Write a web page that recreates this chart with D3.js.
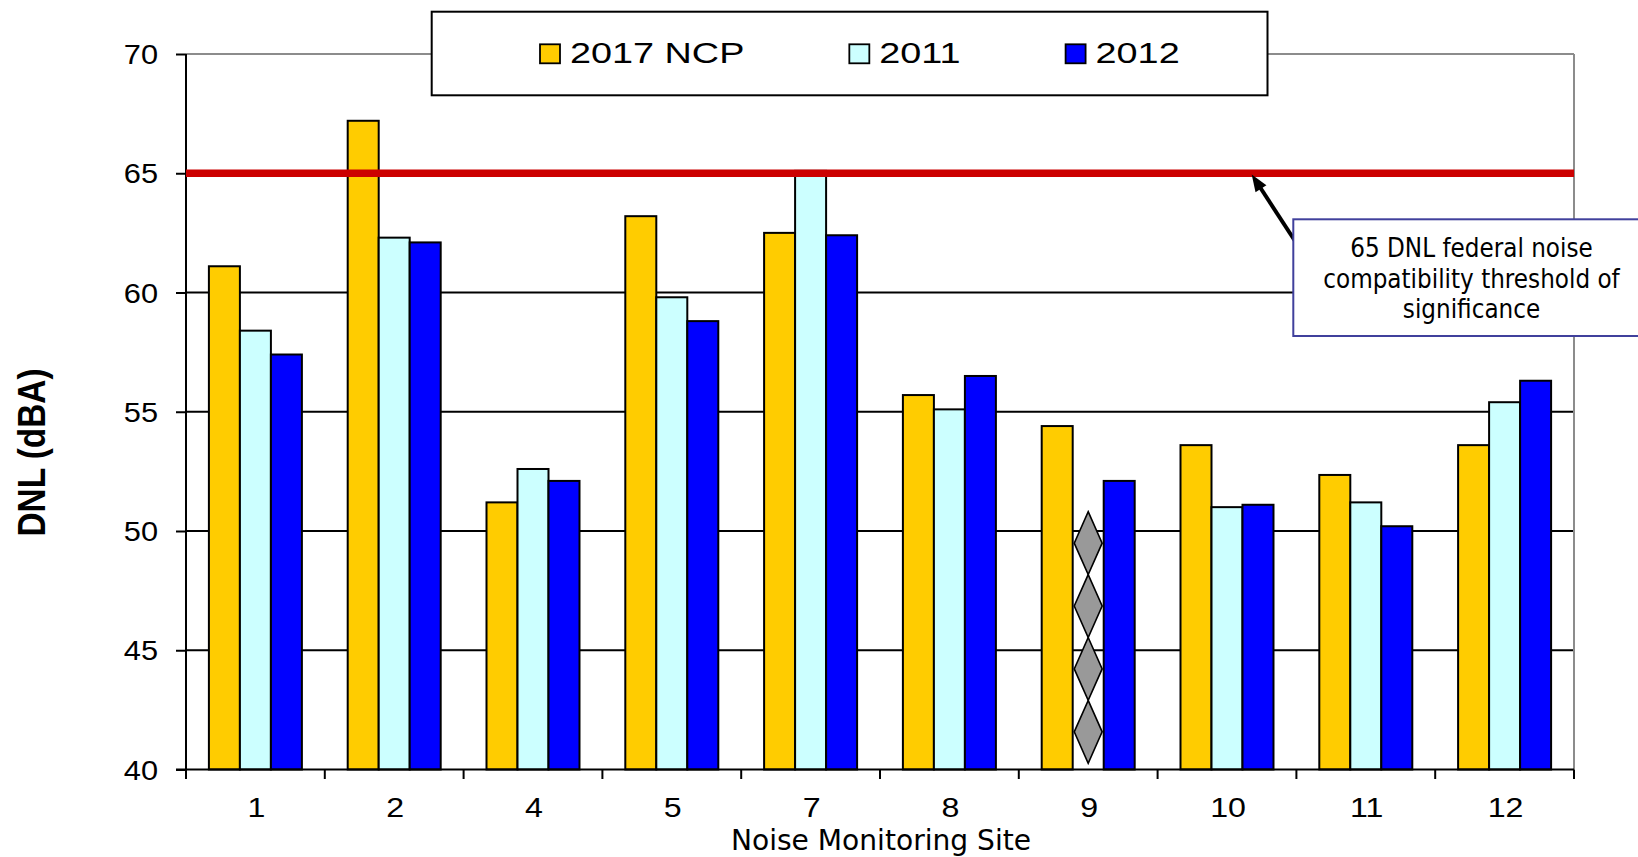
<!DOCTYPE html>
<html>
<head>
<meta charset="utf-8">
<script src="https://cdn.jsdelivr.net/npm/d3@7"></script>
<style>
  html, body { margin: 0; padding: 0; background: #fff; }
  svg { display: block; }
</style>
</head>
<body>
<svg id="chart" width="1638" height="857"></svg>
<script>
// ---- data (DNL, dBA) ----
const sites = ["1", "2", "4", "5", "7", "8", "9", "10", "11", "12"];
const seriesNames = ["2017 NCP", "2011", "2012"];
const ncp2017 = [61.1, 67.2, 51.2, 63.2, 62.5, 55.7, 54.4, 53.6, 52.35, 53.6];
const dnl2011 = [58.4, 62.3, 52.6, 59.8, 65.1, 55.1, null, 51.0, 51.2, 55.4];
const dnl2012 = [57.4, 62.1, 52.1, 58.8, 62.4, 56.5, 52.1, 51.1, 50.2, 56.3];
const yTicks = [40, 45, 50, 55, 60, 65, 70];
const threshold = 65;
const thresholdNote = ["65 DNL federal noise", "compatibility threshold of", "significance"];
const missingSpan = [40.26, 50.81]; // vertical extent of the "no data" marker, dBA
const yTitle = "DNL (dBA)";
const xTitle = "Noise Monitoring Site";

// ---- setup ----
const W = 1638, H = 857;
const plotL = 186, plotR = 1574;
const arial = "'Liberation Sans', Arial, Helvetica, sans-serif";
const tahoma = "'DejaVu Sans', Verdana, sans-serif";

const svg = d3.select("#chart");
svg.append("rect").attr("width", W).attr("height", H).attr("fill", "#fff");

const y = d3.scaleLinear().domain([40, 70]).range([769.5, 54]);
const x = d3.scaleBand().domain(sites).range([plotL, plotR])
  .paddingInner(0.33).paddingOuter(0.165);
const xs = d3.scaleBand().domain(seriesNames).range([0, x.bandwidth()]);
const color = d3.scaleOrdinal().domain(seriesNames)
  .range(["#FFCC00", "#CCFFFF", "#0000FF"]);

const seriesValues = [ncp2017, dnl2011, dnl2012];
const rows = sites.map((s, i) => ({
  site: s,
  values: seriesNames.map((name, k) => ({ name, v: seriesValues[k][i] }))
}));

// ---- gridlines & frame ----
svg.append("g").selectAll("line")
  .data(yTicks.filter(t => t > 40 && t < 70))
  .join("line")
  .attr("x1", plotL).attr("x2", plotR)
  .attr("y1", d => y(d)).attr("y2", d => y(d))
  .attr("stroke", "#000").attr("stroke-width", 1.8);

svg.append("line")
  .attr("x1", plotL).attr("x2", plotR)
  .attr("y1", y(70)).attr("y2", y(70))
  .attr("stroke", "#8c8c8c").attr("stroke-width", 2);
svg.append("line")
  .attr("x1", plotR).attr("x2", plotR)
  .attr("y1", y(70)).attr("y2", y(40))
  .attr("stroke", "#8c8c8c").attr("stroke-width", 2);

// ---- bars ----
const groups = svg.append("g").selectAll("g")
  .data(rows).join("g")
  .attr("transform", d => `translate(${x(d.site)},0)`);

groups.selectAll("rect")
  .data(d => d.values.filter(e => e.v !== null))
  .join("rect")
  .attr("x", e => xs(e.name))
  .attr("y", e => y(e.v))
  .attr("width", xs.bandwidth())
  .attr("height", e => y(40) - y(e.v))
  .attr("fill", e => color(e.name))
  .attr("stroke", "#000")
  .attr("stroke-width", 2);

// "no data" marker: a column of stacked diamonds in the empty slot
groups.each(function (d) {
  const g = d3.select(this);
  d.values.filter(e => e.v === null).forEach(e => {
    const cx = xs(e.name) + xs.bandwidth() / 2;
    const top = y(missingSpan[1]), bottom = y(missingSpan[0]);
    const n = 4, h = (bottom - top) / n, hw = xs.bandwidth() * 0.45;
    g.selectAll(null).data(d3.range(n)).join("path")
      .attr("d", i => {
        const t = top + i * h, m = t + h / 2, b = t + h;
        return `M${cx},${t}L${cx + hw},${m}L${cx},${b}L${cx - hw},${m}Z`;
      })
      .attr("fill", "#999999")
      .attr("stroke", "#000")
      .attr("stroke-width", 1.6);
  });
});

// ---- axes ----
const yAxis = d3.axisLeft(y).tickValues(yTicks).tickSize(10).tickPadding(0);
const gy = svg.append("g").attr("transform", `translate(${plotL},0)`).call(yAxis)
  .attr("font-family", arial).attr("font-size", 27);
gy.select(".domain").remove();
gy.selectAll(".tick line").attr("stroke", "#000").attr("stroke-width", 2);
gy.selectAll(".tick text")
  .attr("x", 0).attr("dy", 0)
  .attr("fill", "#000")
  .attr("transform", "translate(-28,9.7) scale(1.14,1)");

const xAxis = d3.axisBottom(x).tickSize(0).tickPadding(0);
const gx = svg.append("g").attr("transform", `translate(0,${y(40)})`).call(xAxis)
  .attr("font-family", arial).attr("font-size", 27.5);
gx.select(".domain").remove();
gx.selectAll(".tick line").remove();
gx.selectAll(".tick text")
  .attr("y", 0).attr("dy", 0)
  .attr("fill", "#000")
  .attr("transform", "translate(1,47.2) scale(1.17,1)");

// category boundary ticks
const bounds = d3.range(sites.length + 1).map(i => plotL + i * x.step());
svg.append("g").selectAll("line").data(bounds).join("line")
  .attr("x1", d => d).attr("x2", d => d)
  .attr("y1", y(40)).attr("y2", y(40) + 9.5)
  .attr("stroke", "#000").attr("stroke-width", 2);

svg.append("line")
  .attr("x1", plotL).attr("x2", plotL)
  .attr("y1", y(70)).attr("y2", y(40))
  .attr("stroke", "#000").attr("stroke-width", 2);
svg.append("line")
  .attr("x1", plotL - 10).attr("x2", plotR)
  .attr("y1", y(40)).attr("y2", y(40))
  .attr("stroke", "#000").attr("stroke-width", 2);

// ---- threshold line ----
svg.append("line")
  .attr("x1", plotL).attr("x2", plotR)
  .attr("y1", y(threshold)).attr("y2", y(threshold))
  .attr("stroke", "#CC0000").attr("stroke-width", 7.5);

// ---- callout arrow ----
const tip = [1251.7, y(threshold) + 1.2];
const tail = [1296, 242.5];
const dx = tip[0] - tail[0], dy = tip[1] - tail[1];
const len = Math.hypot(dx, dy);
const ux = dx / len, uy = dy / len;
const headL = 17, headW = 6.5;
const base = [tip[0] - ux * headL, tip[1] - uy * headL];
svg.append("line")
  .attr("x1", tail[0]).attr("y1", tail[1])
  .attr("x2", base[0] + ux * 2).attr("y2", base[1] + uy * 2)
  .attr("stroke", "#000").attr("stroke-width", 4);
svg.append("path")
  .attr("d", `M${tip[0]},${tip[1]}L${base[0] - uy * headW},${base[1] + ux * headW}L${base[0] + uy * headW},${base[1] - ux * headW}Z`)
  .attr("fill", "#000");

// ---- callout box ----
const note = svg.append("g");
note.append("rect")
  .attr("x", 1293.3).attr("y", 219.3)
  .attr("width", 357).attr("height", 116.7)
  .attr("fill", "#fff").attr("stroke", "#40409c").attr("stroke-width", 2);
note.selectAll("text").data(thresholdNote).join("text")
  .attr("transform", (d, i) => `translate(1471.5,${256.7 + i * 30.8}) scale(0.89,1)`)
  .attr("text-anchor", "middle")
  .attr("font-family", tahoma).attr("font-size", 26)
  .attr("fill", "#000")
  .text(d => d);

// ---- legend ----
const legend = svg.append("g");
legend.append("rect")
  .attr("x", 431.7).attr("y", 11.7)
  .attr("width", 835.8).attr("height", 83.6)
  .attr("fill", "#fff").attr("stroke", "#000").attr("stroke-width", 2);
let lx = 540;
seriesNames.forEach(name => {
  legend.append("rect")
    .attr("x", lx).attr("y", 44.3)
    .attr("width", 20).attr("height", 19)
    .attr("fill", color(name)).attr("stroke", "#000").attr("stroke-width", 1.8);
  const t = legend.append("text")
    .attr("transform", `translate(${lx + 30},63.3) scale(1.26,1)`)
    .attr("font-family", arial).attr("font-size", 30)
    .attr("fill", "#000")
    .text(name);
  lx += 30 + t.node().getComputedTextLength() * 1.26 + 105;
});

// ---- axis titles ----
svg.append("text")
  .attr("transform", "translate(45,452.5) rotate(-90) scale(1,1.17)")
  .attr("text-anchor", "middle")
  .attr("font-family", arial).attr("font-weight", "bold").attr("font-size", 33.4)
  .attr("fill", "#000")
  .text(yTitle);

svg.append("text")
  .attr("transform", `translate(${(plotL + plotR) / 2 + 1},849.5) scale(0.97,1)`)
  .attr("text-anchor", "middle")
  .attr("font-family", tahoma).attr("font-size", 29)
  .attr("fill", "#000")
  .text(xTitle);
</script>
</body>
</html>
